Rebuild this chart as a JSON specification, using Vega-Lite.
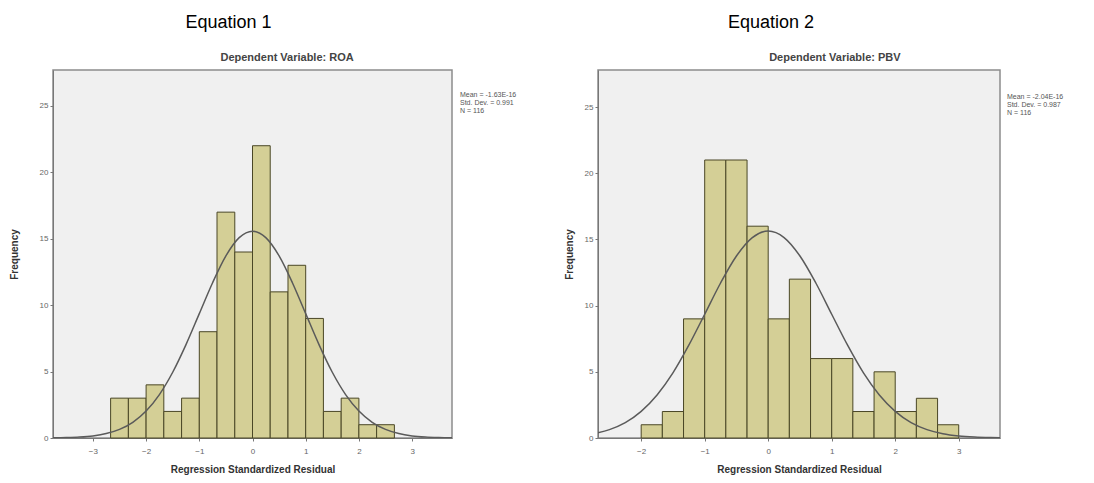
{
  "$schema": "https://vega.github.io/schema/vega-lite/v6.json",
  "background": "white",
  "padding": {"left": 8, "top": 13, "right": 5, "bottom": 5},
  "config": {
    "font": "Liberation Sans",
    "view": {"fill": "#f0f0f0", "stroke": "#8c8c8c", "strokeWidth": 1.5},
    "axis": {"grid": false, "labelFontSize": 8, "labelColor": "#666666", "domainColor": "#777777", "tickColor": "#777777", "tickSize": 3, "titleFontSize": 10, "titleFontWeight": "bold", "titleColor": "#333333", "labelFont": "Liberation Sans", "titleFont": "Liberation Sans", "format": "d"}
  },
  "datasets": {
    "bins1": [
      {"start": -2.667, "end": -2.333, "count": 3},
      {"start": -2.333, "end": -2.0, "count": 3},
      {"start": -2.0, "end": -1.667, "count": 4},
      {"start": -1.667, "end": -1.333, "count": 2},
      {"start": -1.333, "end": -1.0, "count": 3},
      {"start": -1.0, "end": -0.667, "count": 8},
      {"start": -0.667, "end": -0.333, "count": 17},
      {"start": -0.333, "end": 0.0, "count": 14},
      {"start": 0.0, "end": 0.333, "count": 22},
      {"start": 0.333, "end": 0.667, "count": 11},
      {"start": 0.667, "end": 1.0, "count": 13},
      {"start": 1.0, "end": 1.333, "count": 9},
      {"start": 1.333, "end": 1.667, "count": 2},
      {"start": 1.667, "end": 2.0, "count": 3},
      {"start": 2.0, "end": 2.333, "count": 1},
      {"start": 2.333, "end": 2.667, "count": 1}
    ],
    "curve1": [
      {"x": -3.75, "y": 0.012}, {"x": -3.5, "y": 0.031}, {"x": -3.25, "y": 0.072}, {"x": -3.0, "y": 0.159},
      {"x": -2.75, "y": 0.331}, {"x": -2.5, "y": 0.646}, {"x": -2.25, "y": 1.18}, {"x": -2.0, "y": 2.03},
      {"x": -1.75, "y": 3.27}, {"x": -1.5, "y": 4.95}, {"x": -1.25, "y": 7.03}, {"x": -1.0, "y": 9.36},
      {"x": -0.75, "y": 11.69}, {"x": -0.5, "y": 13.71}, {"x": -0.25, "y": 15.08}, {"x": 0.0, "y": 15.57},
      {"x": 0.25, "y": 15.08}, {"x": 0.5, "y": 13.71}, {"x": 0.75, "y": 11.69}, {"x": 1.0, "y": 9.36},
      {"x": 1.25, "y": 7.03}, {"x": 1.5, "y": 4.95}, {"x": 1.75, "y": 3.27}, {"x": 2.0, "y": 2.03},
      {"x": 2.25, "y": 1.18}, {"x": 2.5, "y": 0.646}, {"x": 2.75, "y": 0.331}, {"x": 3.0, "y": 0.159},
      {"x": 3.25, "y": 0.072}, {"x": 3.5, "y": 0.031}, {"x": 3.75, "y": 0.012}
    ],
    "stats1": [{"x": 3.9, "y": 26.1, "label": "Mean = -1.63E-16\nStd. Dev. = 0.991\nN = 116"}],
    "sub1": [{"x": 0.65, "y": 27.7, "label": "Dependent Variable: ROA"}],
    "bins2": [
      {"start": -2.0, "end": -1.667, "count": 1},
      {"start": -1.667, "end": -1.333, "count": 2},
      {"start": -1.333, "end": -1.0, "count": 9},
      {"start": -1.0, "end": -0.667, "count": 21},
      {"start": -0.667, "end": -0.333, "count": 21},
      {"start": -0.333, "end": 0.0, "count": 16},
      {"start": 0.0, "end": 0.333, "count": 9},
      {"start": 0.333, "end": 0.667, "count": 12},
      {"start": 0.667, "end": 1.0, "count": 6},
      {"start": 1.0, "end": 1.333, "count": 6},
      {"start": 1.333, "end": 1.667, "count": 2},
      {"start": 1.667, "end": 2.0, "count": 5},
      {"start": 2.0, "end": 2.333, "count": 2},
      {"start": 2.333, "end": 2.667, "count": 3},
      {"start": 2.667, "end": 3.0, "count": 1}
    ],
    "curve2": [
      {"x": -2.75, "y": 0.322}, {"x": -2.5, "y": 0.632}, {"x": -2.25, "y": 1.16}, {"x": -2.0, "y": 2.01},
      {"x": -1.75, "y": 3.25}, {"x": -1.5, "y": 4.92}, {"x": -1.25, "y": 7.01}, {"x": -1.0, "y": 9.35},
      {"x": -0.75, "y": 11.71}, {"x": -0.5, "y": 13.75}, {"x": -0.25, "y": 15.14}, {"x": 0.0, "y": 15.63},
      {"x": 0.25, "y": 15.14}, {"x": 0.5, "y": 13.75}, {"x": 0.75, "y": 11.71}, {"x": 1.0, "y": 9.35},
      {"x": 1.25, "y": 7.01}, {"x": 1.5, "y": 4.92}, {"x": 1.75, "y": 3.25}, {"x": 2.0, "y": 2.01},
      {"x": 2.25, "y": 1.16}, {"x": 2.5, "y": 0.632}, {"x": 2.75, "y": 0.322}, {"x": 3.0, "y": 0.154},
      {"x": 3.25, "y": 0.069}, {"x": 3.5, "y": 0.029}, {"x": 3.75, "y": 0.012}
    ],
    "stats2": [{"x": 3.76, "y": 26.1, "label": "Mean = -2.04E-16\nStd. Dev. = 0.987\nN = 116"}],
    "sub2": [{"x": 1.05, "y": 27.8, "label": "Dependent Variable: PBV"}]
  },
  "bounds": "flush",
  "spacing": 146,
  "resolve": {"scale": {"x": "independent", "y": "independent"}},
  "hconcat": [
    {
      "title": {"text": "Equation 1", "fontSize": 18, "fontWeight": "normal", "color": "#000000", "font": "Liberation Sans", "dx": -24, "offset": 20},
      "width": 399,
      "height": 368,
      "layer": [
        {
          "data": {"name": "bins1"},
          "mark": {"type": "rect", "fill": "#d4cf96", "stroke": "#4a4726", "strokeWidth": 1},
          "encoding": {
            "x": {"field": "start", "type": "quantitative", "scale": {"domain": [-3.75, 3.75], "nice": false, "zero": false},
                  "axis": {"values": [-3, -2, -1, 0, 1, 2, 3], "title": "Regression Standardized Residual", "labelPadding": 6, "titlePadding": 9}},
            "x2": {"field": "end"},
            "y": {"field": "count", "type": "quantitative", "scale": {"domain": [0, 27.7], "nice": false},
                  "axis": {"values": [0, 5, 10, 15, 20, 25], "title": "Frequency", "titlePadding": 20}},
            "y2": {"datum": 0}
          }
        },
        {
          "data": {"name": "curve1"},
          "mark": {"type": "line", "color": "#5a5a5a", "strokeWidth": 1.5, "clip": true, "interpolate": "monotone"},
          "encoding": {
            "x": {"field": "x", "type": "quantitative"},
            "y": {"field": "y", "type": "quantitative"}
          }
        },
        {
          "data": {"name": "stats1"},
          "mark": {"type": "text", "align": "left", "baseline": "top", "fontSize": 7, "color": "#555555", "lineBreak": "\n", "lineHeight": 8},
          "encoding": {
            "x": {"field": "x", "type": "quantitative"},
            "y": {"field": "y", "type": "quantitative"},
            "text": {"field": "label"}
          }
        },
        {
          "data": {"name": "sub1"},
          "mark": {"type": "text", "align": "center", "baseline": "bottom", "fontSize": 11, "fontWeight": "bold", "color": "#444444", "dy": -7},
          "encoding": {
            "x": {"field": "x", "type": "quantitative"},
            "y": {"field": "y", "type": "quantitative"},
            "text": {"field": "label"}
          }
        }
      ]
    },
    {
      "title": {"text": "Equation 2", "fontSize": 18, "fontWeight": "normal", "color": "#000000", "font": "Liberation Sans", "dx": -28, "offset": 20},
      "width": 402,
      "height": 368,
      "layer": [
        {
          "data": {"name": "bins2"},
          "mark": {"type": "rect", "fill": "#d4cf96", "stroke": "#4a4726", "strokeWidth": 1},
          "encoding": {
            "x": {"field": "start", "type": "quantitative", "scale": {"domain": [-2.68, 3.65], "nice": false, "zero": false},
                  "axis": {"values": [-2, -1, 0, 1, 2, 3], "title": "Regression Standardized Residual", "labelPadding": 6, "titlePadding": 9}},
            "x2": {"field": "end"},
            "y": {"field": "count", "type": "quantitative", "scale": {"domain": [0, 27.8], "nice": false},
                  "axis": {"values": [0, 5, 10, 15, 20, 25], "title": "Frequency", "titlePadding": 10}},
            "y2": {"datum": 0}
          }
        },
        {
          "data": {"name": "curve2"},
          "mark": {"type": "line", "color": "#5a5a5a", "strokeWidth": 1.5, "clip": true, "interpolate": "monotone"},
          "encoding": {
            "x": {"field": "x", "type": "quantitative"},
            "y": {"field": "y", "type": "quantitative"}
          }
        },
        {
          "data": {"name": "stats2"},
          "mark": {"type": "text", "align": "left", "baseline": "top", "fontSize": 7, "color": "#555555", "lineBreak": "\n", "lineHeight": 8},
          "encoding": {
            "x": {"field": "x", "type": "quantitative"},
            "y": {"field": "y", "type": "quantitative"},
            "text": {"field": "label"}
          }
        },
        {
          "data": {"name": "sub2"},
          "mark": {"type": "text", "align": "center", "baseline": "bottom", "fontSize": 11, "fontWeight": "bold", "color": "#444444", "dy": -7},
          "encoding": {
            "x": {"field": "x", "type": "quantitative"},
            "y": {"field": "y", "type": "quantitative"},
            "text": {"field": "label"}
          }
        }
      ]
    }
  ]
}
